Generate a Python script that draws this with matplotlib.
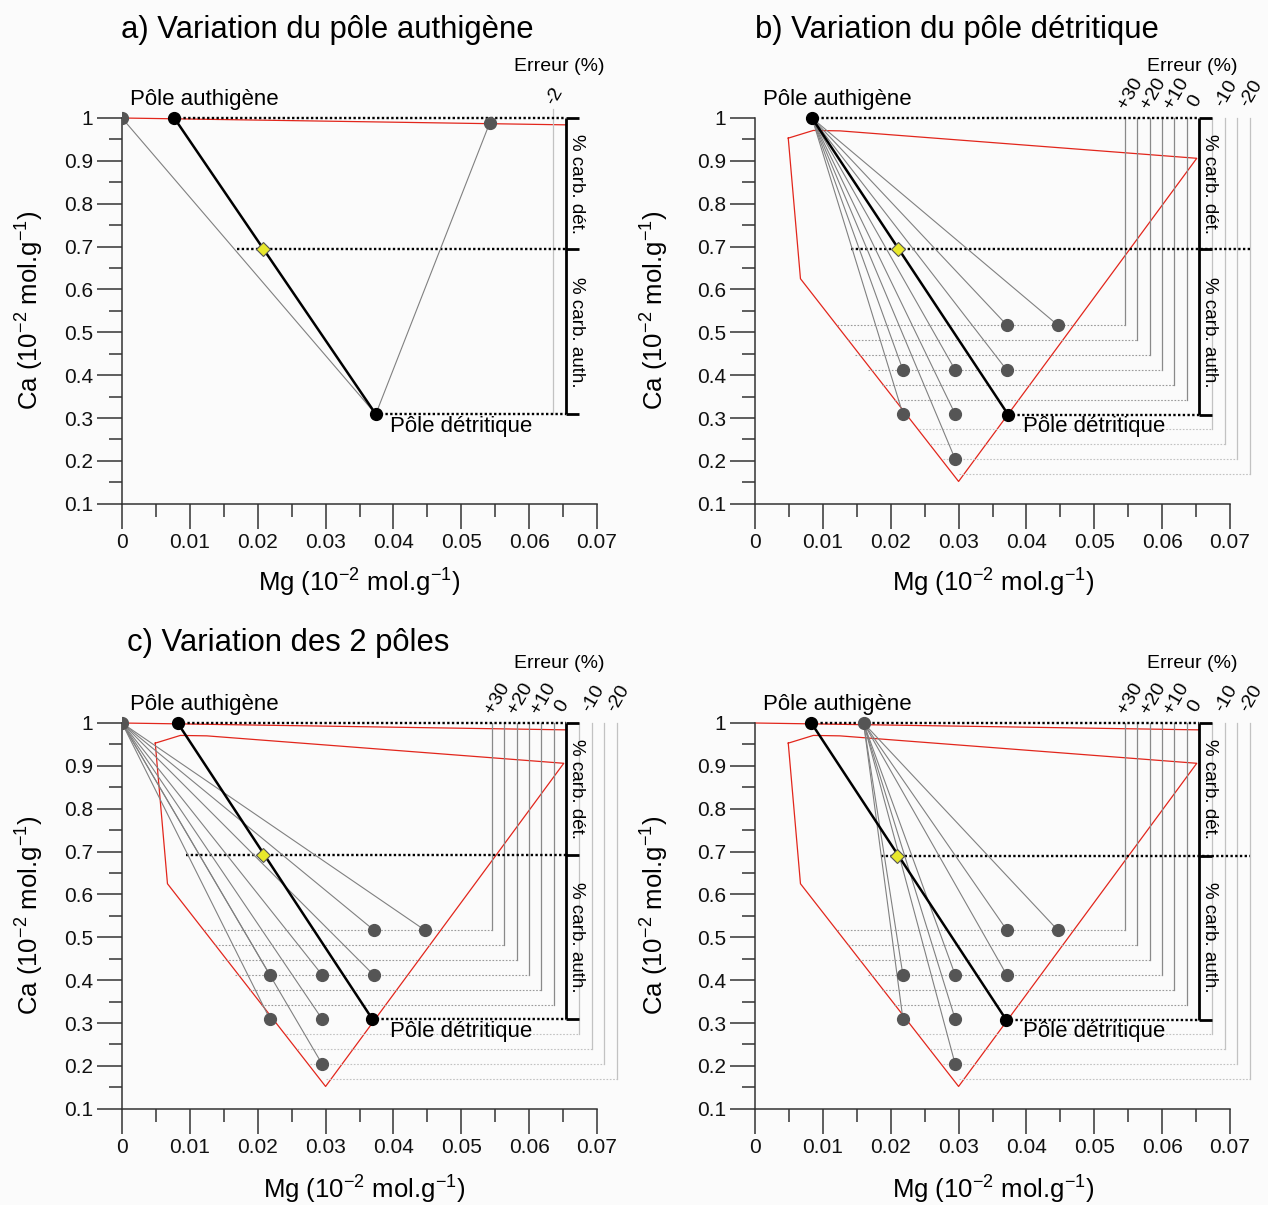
import matplotlib
matplotlib.use("Agg")
import matplotlib.pyplot as plt

# ---- data (Mg, Ca in 10^-2 mol/g) ----
# poles per panel: a, b, c, d
auth_mg = [0.0077, 0.0084, 0.0082, 0.0083]
auth_ca = [1.0, 1.0, 1.0, 1.0]
det_mg = [0.0374, 0.0373, 0.0369, 0.0370]
det_ca = [0.309, 0.308, 0.309, 0.308]
mix_mg = [0.0208, 0.0211, 0.0208, 0.0209]
mix_ca = [0.694, 0.694, 0.692, 0.690]
mix_line_start = [0.0169, 0.0141, 0.0094, 0.0185]
mix_line_end = [0.0655, 0.0730, 0.0655, 0.0730]

# panel a: variations of the authigenic pole
a_var_mg = [0.0, 0.0542]
a_var_ca = [1.0, 0.989]

# panels b, c, d: variations of the detrital pole
det_var_mg = [0.0446, 0.0371, 0.0371, 0.0295, 0.0218, 0.0218, 0.0295, 0.0295]
det_var_ca = [0.517, 0.517, 0.412, 0.412, 0.412, 0.309, 0.309, 0.204]

# authigenic variant from which the grey fan starts (c, d)
c_auth_var = (0.0, 1.0)
d_auth_var = (0.0160, 1.0)

# red envelopes
env_auth_mg = [0.0, 0.0655]
env_auth_ca = [1.0, 0.984]
env_det_mg = [0.0049, 0.0086, 0.0125, 0.0651, 0.0300, 0.0067, 0.0049]
env_det_ca = [0.953, 0.971, 0.970, 0.906, 0.152, 0.625, 0.953]

# error scale
bar_x = 0.0655
err_x = [0.0545, 0.0563, 0.0582, 0.0600, 0.0618, 0.0637, 0.0674, 0.0692, 0.0711, 0.0729]
err_ca = [0.517, 0.482, 0.447, 0.412, 0.377, 0.342, 0.274, 0.239, 0.204, 0.170]
err_left = [0.0121, 0.0137, 0.0147, 0.0167, 0.0187, 0.0205, 0.0241, 0.0258, 0.0277, 0.0300]
err_pos = [True, True, True, True, True, True, False, False, False, False]
err_labels = ["+30", "+20", "+10", "0", "-10", "-20"]
err_label_x = [0.0553, 0.0587, 0.0621, 0.0648, 0.0695, 0.0732]
err_label_y = [1.058, 1.058, 1.058, 1.040, 1.058, 1.058]
a_err_x = 0.0635

x_ticks = [0, 0.01, 0.02, 0.03, 0.04, 0.05, 0.06, 0.07]
x_tick_labels = ["0", "0.01", "0.02", "0.03", "0.04", "0.05", "0.06", "0.07"]
x_minor = [0.005, 0.015, 0.025, 0.035, 0.045, 0.055, 0.065]
y_ticks = [0.1, 0.2, 0.3, 0.4, 0.5, 0.6, 0.7, 0.8, 0.9, 1.0]
y_tick_labels = ["0.1", "0.2", "0.3", "0.4", "0.5", "0.6", "0.7", "0.8", "0.9", "1"]
y_minor = [0.15, 0.25, 0.35, 0.45, 0.55, 0.65, 0.75, 0.85, 0.95]

titles = ["a) Variation du pôle authigène", "b) Variation du pôle détritique",
          "c) Variation des 2 pôles"]

# ---- style ----
plt.rcParams["font.family"] = ["Liberation Sans", "DejaVu Sans"]
plt.rcParams["mathtext.fontset"] = "custom"
plt.rcParams["mathtext.rm"] = "Liberation Sans"
plt.rcParams["mathtext.it"] = "Liberation Sans:italic"
plt.rcParams["mathtext.bf"] = "Liberation Sans:bold"

BG = "#fbfbfb"
RED = "#e2261c"
GREY_LINE = "#808080"
GREY_PT = "#555555"
AX_COL = "#333333"

W, H = 1268, 1205
SX, SY = 6786.0, 428.6
XMAX, YMIN, YMAX = 0.076, 0.1, 1.14

fig = plt.figure(figsize=(W / 100, H / 100), dpi=100, facecolor=BG)


def ftext(px, py, s, **kw):
    fig.text(px / W, 1 - py / H, s, **kw)


def add_panel(x0, y1):
    left, right = x0, x0 + XMAX * SX
    top, bottom = y1 - (YMAX - 1) * SY, y1 + (1 - YMIN) * SY
    ax = fig.add_axes([left / W, 1 - bottom / H, (right - left) / W, (bottom - top) / H])
    ax.set_xlim(0, XMAX)
    ax.set_ylim(YMIN, YMAX)
    ax.patch.set_visible(False)
    for s in ["top", "right"]:
        ax.spines[s].set_visible(False)
    ax.spines["left"].set_bounds(0.1, 1.0)
    ax.spines["bottom"].set_bounds(0, 0.07)
    for s in ["left", "bottom"]:
        ax.spines[s].set_color(AX_COL)
        ax.spines[s].set_linewidth(1.1)
    ax.set_xticks(x_ticks)
    ax.set_xticklabels(x_tick_labels)
    ax.set_xticks(x_minor, minor=True)
    ax.set_yticks(y_ticks)
    ax.set_yticklabels(y_tick_labels)
    ax.set_yticks(y_minor, minor=True)
    ax.tick_params(which="major", direction="out", length=18, width=1.1,
                   color=AX_COL, labelsize=15, labelcolor="#111111")
    ax.tick_params(which="minor", direction="out", length=9.4, width=1.1, color=AX_COL)
    ax.tick_params(axis="x", which="major", pad=3)
    ax.tick_params(axis="y", which="major", pad=3)
    return ax


def draw_bar(ax, k):
    ax.plot([bar_x, bar_x], [1.0, det_ca[k]], color="k", lw=2, zorder=3,
            solid_capstyle="butt")
    for yv in [1.0, mix_ca[k], det_ca[k]]:
        ax.plot([bar_x, bar_x + 0.0018], [yv, yv], color="k", lw=2, zorder=3,
                solid_capstyle="butt")
    ax.text(0.0670, 0.845, "% carb. dét.", rotation=270, ha="center", va="center",
            fontsize=13.5, rotation_mode="anchor")
    ax.text(0.0670, 0.500, "% carb. auth.", rotation=270, ha="center", va="center",
            fontsize=13.5, rotation_mode="anchor")


def draw_dotted(ax, k):
    dot = dict(color="k", lw=1.7, ls=(0, (1, 1)), zorder=2)
    ax.plot([auth_mg[k], bar_x], [1.0, 1.0], **dot)
    ax.plot([mix_line_start[k], mix_line_end[k]], [mix_ca[k], mix_ca[k]], **dot)
    ax.plot([det_mg[k], bar_x], [det_ca[k], det_ca[k]], **dot)


def draw_errors(ax):
    for xe, ye, xl, pos in zip(err_x, err_ca, err_left, err_pos):
        col = "#8a8a8a" if pos else "#c2c2c2"
        ax.plot([xe, xe], [1.0, ye], color=col, lw=0.9, zorder=1.5)
        ax.plot([xl, xe], [ye, ye], color="#9a9a9a" if pos else "#c2c2c2",
                lw=0.8, ls=(0, (1.5, 1.5)), zorder=1.5)
    for lab, lx, ly in zip(err_labels, err_label_x, err_label_y):
        ax.text(lx, ly, lab, rotation=60, ha="center", va="center", fontsize=14)


def draw_poles(ax, k):
    ax.plot([auth_mg[k], det_mg[k]], [auth_ca[k], det_ca[k]], color="k", lw=1.8, zorder=3)
    ax.plot([auth_mg[k], det_mg[k]], [auth_ca[k], det_ca[k]], "o", color="k",
            ms=8.5, zorder=5)
    ax.plot([mix_mg[k]], [mix_ca[k]], "D", color="#e8e82c", mec="#555555", mew=0.8,
            ms=7.5, zorder=6)
    ax.text(0.0012, 1.044, "Pôle authigène", fontsize=16, ha="left", va="center")
    ax.text(0.0395, 0.281, "Pôle détritique", fontsize=16, ha="left", va="center")
    ax.text(0.0645, 1.121 if k < 2 else 1.139, "Erreur (%)", fontsize=14,
            ha="center", va="center")


def draw_fan(ax, x0, y0):
    for xm, ym in zip(det_var_mg, det_var_ca):
        ax.plot([x0, xm], [y0, ym], color=GREY_LINE, lw=0.8, zorder=2.5)
    ax.plot(det_var_mg, det_var_ca, "o", color=GREY_PT, ms=8.5, zorder=4)


panel_origin = [(122, 118), (755, 118), (122, 723), (755, 723)]
axes = [add_panel(x0, y1) for x0, y1 in panel_origin]

# a) authigenic pole variation
ax = axes[0]
ax.plot(env_auth_mg, env_auth_ca, color=RED, lw=0.9, zorder=1)
ax.plot([a_err_x, a_err_x], [1.02, det_ca[0]], color="#c2c2c2", lw=0.9, zorder=1.5)
ax.text(a_err_x + 0.0003, 1.050, "-2", rotation=60, ha="center", va="center", fontsize=14)
for xm, ym in zip(a_var_mg, a_var_ca):
    ax.plot([xm, det_mg[0]], [ym, det_ca[0]], color=GREY_LINE, lw=0.8, zorder=2.5)
ax.plot(a_var_mg, a_var_ca, "o", color=GREY_PT, ms=8.5, zorder=4)
draw_dotted(ax, 0)
draw_bar(ax, 0)
draw_poles(ax, 0)

# b) detrital pole variation
ax = axes[1]
ax.plot(env_det_mg, env_det_ca, color=RED, lw=0.9, zorder=1)
draw_errors(ax)
draw_dotted(ax, 1)
draw_fan(ax, auth_mg[1], auth_ca[1])
draw_bar(ax, 1)
draw_poles(ax, 1)

# c) and d) both poles vary
for k, (x0, y0) in zip([2, 3], [c_auth_var, d_auth_var]):
    ax = axes[k]
    ax.plot(env_auth_mg, env_auth_ca, color=RED, lw=0.9, zorder=1)
    ax.plot(env_det_mg, env_det_ca, color=RED, lw=0.9, zorder=1)
    draw_errors(ax)
    draw_dotted(ax, k)
    draw_fan(ax, x0, y0)
    ax.plot([x0], [y0], "o", color=GREY_PT, ms=8.5, zorder=4)
    draw_bar(ax, k)
    draw_poles(ax, k)

# titles and axis labels
ftext(121, 30, titles[0], fontsize=22.3, ha="left", va="center")
ftext(755, 30, titles[1], fontsize=22.3, ha="left", va="center")
ftext(127, 643, titles[2], fontsize=22.3, ha="left", va="center")

xlab = r"Mg (10$^{-2}$ mol.g$^{-1}$)"
ylab = r"Ca (10$^{-2}$ mol.g$^{-1}$)"
for px, py in [(359, 583), (993, 583), (364, 1190), (993, 1190)]:
    ftext(px, py, xlab, fontsize=18.5, ha="center", va="center")
for px, py in [(30, 310), (655, 310), (30, 915), (655, 915)]:
    ftext(px, py, ylab, fontsize=18.5, ha="center", va="center", rotation=90)

fig.savefig("out.png", dpi=100, facecolor=BG)
